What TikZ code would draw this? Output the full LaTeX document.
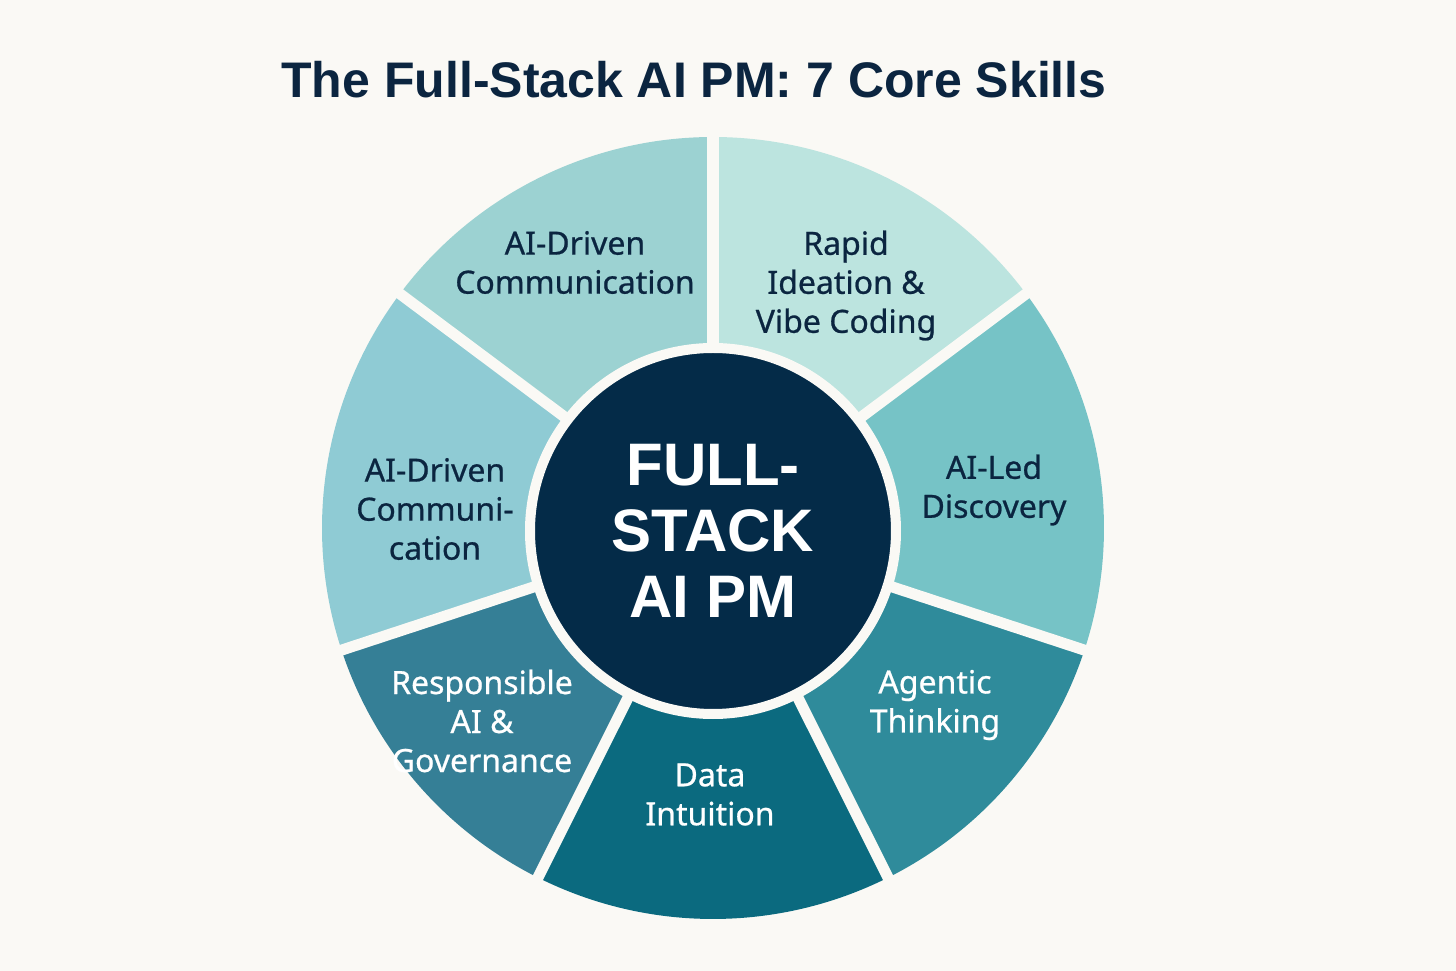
\documentclass[tikz,border=0pt]{standalone}
\usepackage{fontspec}
\setmainfont{Noto Sans}
\newfontfamily\skillfont{Noto Sans}[FakeBold=0.7]
\newfontfamily\headfont{Liberation Sans}
\definecolor{paper}{HTML}{FAF9F5}
\definecolor{ink}{HTML}{0B2540}
\definecolor{navy}{HTML}{042B48}
\definecolor{segA}{HTML}{9CD2D2}
\definecolor{segB}{HTML}{BCE4DF}
\definecolor{segC}{HTML}{76C3C6}
\definecolor{segD}{HTML}{2F8B9B}
\definecolor{segE}{HTML}{0B6A7F}
\definecolor{segF}{HTML}{357F96}
\definecolor{segG}{HTML}{8FCBD4}
\tikzset{skill/.style={align=center, text=ink, font=\skillfont\fontsize{32}{39}\selectfont}}
\begin{document}
\begin{tikzpicture}[x=1pt, y=1pt]
    \fill[paper] (-713,-443) rectangle (743,528);
    \useasboundingbox (-713,-443) rectangle (743,528);
    \node[anchor=base, text=ink, font=\headfont\bfseries\fontsize{50}{60}\selectfont] (title) at (-19,430) {The Full-Stack AI PM: 7 Core Skills};
    % ring of skills
    \foreach \a/\b/\c in {90/143.2/segA, 36.8/90/segB, -18.2/36.8/segC, -63.4/-18.2/segD, -116.6/-63.4/segE, -161.8/-116.6/segF, 143.2/198.2/segG}
        {\fill[\c] (\a:178) -- (\a:391) arc[start angle=\a, end angle=\b, radius=391] -- (\b:178) -- cycle;}
    \foreach \a in {90,36.8,-18.2,-63.4,-116.6,-161.8,143.2} {\draw[paper, line width=11] (0,0) -- (\a:400);}
    \node[circle, fill=navy, draw=paper, line width=10, minimum size=366, inner sep=0, text=white, align=center, font=\headfont\bfseries\fontsize{60}{66}\selectfont] (hub) at (0,-3) {FULL-\\STACK\\AI PM};
    \node[skill] (comm) at (-138,265.5) {AI-Driven\\Communication};
    \node[skill] (ideation) at (133,242.5) {Rapid\\Ideation \&\\Vibe Coding};
    \node[skill] (discovery) at (281,38) {AI-Led\\Discovery};
    \node[skill, text=white] (agentic) at (222,-177) {Agentic\\Thinking};
    \node[skill, text=white] (data) at (-3,-266.5) {Data\\Intuition};
    \node[skill, text=white] (governance) at (-231,-193) {Responsible\\AI \&\\Governance};
    \node[skill] (commsplit) at (-278,19) {AI-Driven\\Communi-\\cation};
\end{tikzpicture}
\end{document}
